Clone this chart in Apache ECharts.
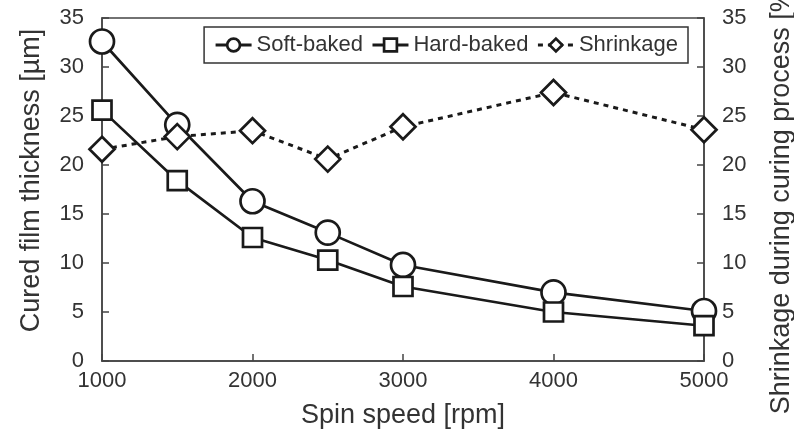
<!DOCTYPE html>
<html>
<head>
<meta charset="utf-8">
<script src="https://cdn.jsdelivr.net/npm/echarts@6/dist/echarts.min.js"></script>
<style>
  html, body { margin: 0; padding: 0; background: #fff; }
  #chart { width: 794px; height: 431px; }
</style>
</head>
<body>
<div id="chart"></div>
<script>
  // spin speed [rpm]
  const speeds = [1000, 1500, 2000, 2500, 3000, 4000, 5000]
  // cured film thickness [µm]
  const softBaked = [32.6, 24.1, 16.3, 13.1, 9.8, 7.0, 5.1]
  const hardBaked = [25.6, 18.4, 12.6, 10.3, 7.6, 5.0, 3.6]
  // shrinkage during curing [%]
  const shrinkage = [21.6, 22.9, 23.5, 20.6, 23.9, 27.4, 23.6]

  const font = 'Liberation Sans, Arial, sans-serif'
  const ink = '#1a1a1a'
  const txt = '#333'

  const pairs = (ys) => speeds.map((x, i) => [x, ys[i]])

  let myChart = echarts.init(document.getElementById('chart'))

  let markerStyle = {
    color: '#fff',
    borderColor: ink,
    borderWidth: 2.7
  }

  let option = {
    animation: false,
    textStyle: { fontFamily: font },
    grid: {
      left: 102,
      right: 90,
      top: 18,
      bottom: 70,
      outerBoundsMode: 'none',
      containLabel: false,
      show: true,
      borderColor: '#444',
      borderWidth: 1.5
    },
    legend: {
      top: 27,
      right: 106,
      padding: [7, 10, 7, 10],
      borderColor: '#333',
      borderWidth: 1.5,
      itemGap: 8,
      itemWidth: 36,
      itemHeight: 16,
      itemStyle: { borderWidth: 2.7 },
      lineStyle: { width: 3 },
      textStyle: { fontSize: 22, color: txt, fontFamily: font },
      data: ['Soft-baked', 'Hard-baked', 'Shrinkage']
    },
    xAxis: {
      type: 'value',
      min: 1000,
      max: 5000,
      interval: 1000,
      name: 'Spin speed [rpm]',
      nameLocation: 'middle',
      nameGap: 41,
      nameTextStyle: { fontSize: 27, color: txt },
      axisLine: { lineStyle: { color: '#444', width: 1.5 } },
      axisTick: { inside: true, length: 7, lineStyle: { color: '#444', width: 1.5 } },
      axisLabel: { fontSize: 22, color: txt, margin: 9, formatter: (v) => String(v) },
      splitLine: { show: false }
    },
    yAxis: [
      {
        type: 'value',
        min: 0,
        max: 35,
        interval: 5,
        name: 'Cured film thickness [µm]',
        nameLocation: 'middle',
        nameRotate: 90,
        nameGap: 57,
        nameTextStyle: { fontSize: 27, color: txt, padding: [0, 0, 0, 18] },
        axisLine: { show: true, lineStyle: { color: '#444', width: 1.5 } },
        axisTick: { show: true, inside: true, length: 7, lineStyle: { color: '#444', width: 1.5 } },
        axisLabel: { fontSize: 22, color: txt, margin: 18 },
        splitLine: { show: false }
      },
      {
        type: 'value',
        min: 0,
        max: 35,
        interval: 5,
        position: 'right',
        name: 'Shrinkage during curing process [%]',
        nameLocation: 'middle',
        nameRotate: 90,
        nameGap: 64,
        nameTextStyle: { fontSize: 27, color: txt, padding: [0, 16, 0, 0] },
        axisLine: { show: true, lineStyle: { color: '#444', width: 1.5 } },
        axisTick: { show: true, inside: true, length: 7, lineStyle: { color: '#444', width: 1.5 } },
        axisLabel: { fontSize: 22, color: txt, margin: 18 },
        splitLine: { show: false }
      }
    ],
    series: [
      {
        name: 'Soft-baked',
        type: 'line',
        yAxisIndex: 0,
        data: pairs(softBaked),
        symbol: 'circle',
        symbolSize: 24,
        lineStyle: { color: ink, width: 2.7 },
        itemStyle: markerStyle,
        z: 3
      },
      {
        name: 'Hard-baked',
        type: 'line',
        yAxisIndex: 0,
        data: pairs(hardBaked),
        symbol: 'rect',
        symbolSize: 19,
        lineStyle: { color: ink, width: 2.7 },
        itemStyle: markerStyle,
        z: 3
      },
      {
        name: 'Shrinkage',
        type: 'line',
        yAxisIndex: 1,
        data: pairs(shrinkage),
        symbol: 'diamond',
        symbolSize: 25,
        lineStyle: { color: ink, width: 3, type: [5, 5] },
        itemStyle: markerStyle,
        z: 3
      }
    ]
  }

  myChart.setOption(option)
</script>
</body>
</html>
